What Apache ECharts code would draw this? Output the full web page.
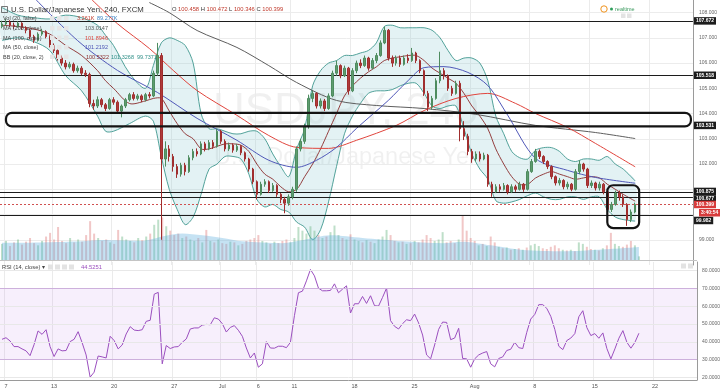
<!DOCTYPE html>
<html><head><meta charset="utf-8">
<script src="https://cdn.jsdelivr.net/npm/echarts@6/dist/echarts.min.js"></script>
<style>html,body{margin:0;padding:0;background:#fff}#c{width:720px;height:391px}</style>
</head><body><div id="c"></div>
<script>
// ---------- data ----------
const tickDates = ['2016-06-07','2016-06-13','2016-06-20','2016-06-27','2016-07-01','2016-07-06','2016-07-11','2016-07-18','2016-07-25','2016-08-01','2016-08-08','2016-08-15','2016-08-22'];
const tickLabels = ['7','13','20','27','Jul','6','11','18','25','Aug','8','15','22'];

// [open, close, low, high]
const candles = [
[107.45,107.55,107.38,107.68],[107.55,107.62,107.48,107.75],[107.62,107.50,107.42,107.70],[107.50,107.45,107.35,107.60],
[107.45,107.58,107.40,107.66],[107.58,107.40,107.32,107.62],[107.40,107.30,107.18,107.46],[107.30,107.05,106.95,107.36],
[107.05,106.90,106.80,107.12],[106.90,107.15,106.85,107.22],[107.15,107.25,107.08,107.35],[107.25,107.05,106.98,107.30],
[107.05,106.70,106.62,107.10],[106.70,106.50,106.40,106.78],[106.50,106.20,106.10,106.58],[106.20,106.00,105.90,106.30],
[106.00,105.85,105.75,106.12],[105.85,105.95,105.78,106.05],[105.95,105.70,105.62,106.02],[105.70,105.80,105.62,105.90],
[105.80,105.60,105.52,105.88],[105.60,105.55,105.45,105.72],[105.55,104.40,104.25,105.62],[104.40,104.30,104.15,104.55],
[104.30,104.55,104.22,104.68],[104.55,104.35,104.25,104.62],[104.35,104.20,104.10,104.42],[104.20,104.55,104.15,104.62],
[104.55,104.45,104.35,104.65],[104.45,104.10,104.00,104.52],[104.10,104.30,103.85,104.36],[104.30,104.55,104.22,104.62],
[104.55,104.75,104.48,104.82],[104.75,104.60,104.52,104.85],[104.60,104.70,104.52,104.78],[104.70,104.55,104.45,104.76],
[104.55,104.75,104.48,104.82],[104.75,104.70,104.60,104.85],[104.70,105.60,104.65,105.70],[105.60,106.30,105.50,106.80],
[106.30,102.20,99.00,106.40],[102.20,102.60,101.90,102.90],[102.60,102.30,102.10,102.75],[102.30,101.90,101.70,102.40],
[101.90,101.60,101.45,102.00],[101.60,101.95,101.50,102.05],[101.95,101.70,101.55,102.05],[101.70,102.25,101.65,102.35],
[102.25,102.50,102.15,102.60],[102.50,102.40,102.30,102.62],[102.40,102.80,102.35,102.90],[102.80,102.60,102.50,102.88],
[102.60,102.85,102.55,102.95],[102.85,102.70,102.60,102.95],[102.70,103.30,102.65,103.40],[103.30,102.90,102.80,103.35],
[102.90,102.60,102.50,102.98],[102.60,102.75,102.52,102.85],[102.75,102.55,102.45,102.82],[102.55,102.70,102.48,102.80],
[102.70,102.45,102.35,102.75],[102.45,102.20,102.10,102.50],[102.20,101.80,101.70,102.25],[101.80,101.30,101.20,101.85],
[101.30,100.80,100.60,101.35],[100.80,101.20,100.75,101.30],[101.20,101.30,101.10,101.40],[101.30,100.95,100.85,101.35],
[100.95,101.15,100.90,101.25],[101.15,100.80,100.70,101.20],[100.80,100.60,100.45,100.85],[100.60,100.45,100.05,100.70],
[100.45,100.70,100.35,100.80],[100.70,101.00,100.60,101.10],[101.00,102.60,100.90,102.70],[102.60,102.90,102.50,103.00],
[102.90,103.50,102.80,103.60],[103.50,104.60,103.40,104.75],[104.60,104.80,104.45,104.90],[104.80,104.30,104.20,104.85],
[104.30,104.50,104.20,104.60],[104.50,104.20,104.10,104.58],[104.20,104.70,104.15,104.80],[104.70,105.60,104.65,105.70],
[105.60,105.90,105.50,106.10],[105.90,105.50,105.40,105.95],[105.50,105.80,105.45,105.90],[105.80,104.90,104.75,105.85],
[104.90,105.70,104.85,105.80],[105.70,106.00,105.60,106.10],[106.00,105.90,105.80,106.15],[105.90,106.20,105.85,106.30],
[106.20,105.80,105.70,106.25],[105.80,106.10,105.75,106.20],[106.10,106.30,106.00,106.40],[106.30,106.80,106.25,106.90],
[106.80,107.30,106.75,107.45],[107.30,106.20,106.10,107.35],[106.20,106.00,105.85,106.30],[106.00,106.20,105.90,106.30],
[106.20,105.95,105.85,106.30],[105.95,106.20,105.90,106.30],[106.20,106.10,106.00,106.35],[106.10,106.40,106.05,106.60],
[106.40,106.10,106.00,106.45],[106.10,105.70,105.60,106.15],[105.70,104.80,104.70,105.75],[104.80,104.25,104.10,104.90],
[104.25,104.60,104.15,104.70],[104.60,105.30,104.55,105.40],[105.30,105.70,105.20,106.45],[105.70,105.50,105.35,105.80],
[105.50,105.00,104.90,105.55],[105.00,104.80,104.70,105.10],[104.80,105.20,104.75,105.30],[105.20,103.40,102.90,105.30],
[103.40,103.10,102.95,103.70],[103.10,102.50,102.35,103.20],[102.50,102.20,102.05,102.60],[102.20,102.40,102.10,102.50],
[102.40,102.20,102.10,102.50],[102.20,102.35,102.15,102.45],[102.35,101.20,101.10,102.40],[101.20,100.90,100.70,101.30],
[100.90,101.10,100.85,101.20],[101.10,101.00,100.90,101.20],[101.00,101.15,100.95,101.25],[101.15,100.90,100.80,101.20],
[100.90,101.10,100.85,101.20],[101.10,101.00,100.90,101.18],[101.00,101.20,100.95,101.30],[101.20,101.00,100.90,101.25],
[101.00,101.70,100.95,101.80],[101.70,102.10,101.65,102.20],[102.10,102.50,102.05,102.60],[102.50,102.30,102.20,102.58],
[102.30,102.10,102.00,102.35],[102.10,101.90,101.80,102.15],[101.90,101.50,101.40,101.95],[101.50,101.25,101.15,101.55],
[101.25,101.35,101.15,101.45],[101.35,101.10,101.00,101.40],[101.10,101.20,101.00,101.30],[101.20,101.00,100.92,101.25],
[101.00,101.70,100.95,101.80],[101.70,102.00,101.60,102.15],[102.00,101.80,101.70,102.05],[101.80,101.15,101.05,101.85],
[101.15,101.25,101.05,101.35],[101.25,101.05,100.95,101.30],[101.05,101.20,100.95,101.30],[101.20,100.90,100.80,101.25],
[100.90,100.20,99.95,100.95],[100.20,100.40,100.10,100.50],[100.40,100.85,100.35,100.95],[100.85,100.70,100.55,100.95],
[100.70,100.40,100.30,100.80],[100.40,99.80,99.55,100.45],[99.80,100.10,99.70,100.20],[100.10,100.40,100.05,100.47]
];

// volume, thousands
const volumes = [
110,130,95,120,140,105,125,150,115,100,130,
160,185,140,225,130,115,150,120,140,125,
170,265,180,150,130,140,120,110,205,160,
140,130,120,150,135,160,180,240,275,290,
230,200,170,180,150,160,140,130,150,120,
205,130,120,140,115,110,125,120,100,110,
130,140,150,170,130,120,110,125,115,130,
140,120,150,225,200,180,230,200,170,150,
160,190,235,170,150,140,175,140,130,120,
135,125,115,140,160,205,170,130,120,125,
110,115,130,120,140,170,150,130,140,190,
120,130,115,140,300,200,150,130,100,110,
95,160,120,90,80,85,70,75,80,70,
85,100,110,95,80,75,90,100,80,70,
65,70,60,120,110,90,75,70,65,80,
100,185,110,95,90,105,130,100,25
];
const volMA = [[0,118],[10,120],[20,128],[25,136],[35,130],[40,160],[45,180],[50,168],[55,150],[60,128],[70,115],[75,135],[82,168],[90,150],[100,128],[110,115],[115,125],[122,100],[130,68],[140,60],[150,72],[159,89]];

const rsi = [
41.4,42.3,40.5,37.3,37.3,36.0,34.9,32.2,38.4,46.1,
44.2,46.8,37.3,31.7,36.0,34.9,35.1,40.1,41.4,45.7,
39.5,32.6,20.1,22.9,32.0,31.5,30.9,43.1,40.7,36.0,
38.2,44.4,48.5,46.6,46.3,46.8,51.5,52.1,66.8,67.8,
27.6,37.9,36.2,37.1,37.3,39.7,41.6,47.2,47.8,47.8,
49.4,49.8,49.6,53.5,52.8,50.2,45.5,48.1,49.1,46.5,
43.1,36.5,30.9,33.7,25.7,27.6,40.1,36.5,36.4,37.5,
37.5,36.7,39.7,54.7,67.6,68.5,74.3,80.7,77.1,70.2,
68.7,68.7,68.9,72.6,67.6,69.6,71.5,56.2,61.4,61.4,
65.5,61.6,65.9,60.3,60.1,65.0,70.2,51.9,48.7,47.2,
50.2,52.4,51.9,55.6,50.6,43.8,32.6,30.4,38.2,47.0,
51.1,50.9,41.2,42.1,47.6,30.6,30.4,25.7,30.4,32.6,
33.7,34.5,27.6,25.9,30.6,31.5,35.1,35.8,39.7,36.7,
36.2,45.3,52.8,55.4,60.9,60.9,58.8,54.3,47.0,37.5,
35.6,40.7,42.1,44.6,54.1,57.5,48.0,43.5,44.6,42.0,
45.0,36.2,30.4,36.0,42.0,46.3,39.7,36.4,39.7,44.8
];

const ma200 = [[37,108.40],[42,108.00],[49,107.29],[59,106.62],[67,105.90],[74,105.23],[84,104.52],[94,104.32],[106,104.20],[119,103.97],[134,103.53],[149,103.25],[159,103.01]];
const ma100 = [[22,108.60],[29,107.56],[37,106.58],[43,105.71],[49,104.91],[59,103.93],[67,103.13],[74,102.66],[82,102.62],[89,102.94],[99,103.53],[106,104.12],[114,104.60],[122,104.80],[129,104.40],[134,104.00],[142,103.45],[149,102.82],[159,101.89]];
const ma50 = [[8,108.60],[19,106.89],[29,105.71],[39,104.84],[49,103.81],[59,102.94],[67,102.15],[74,101.87],[79,102.15],[84,102.66],[89,103.41],[97,104.52],[102,105.31],[106,105.82],[111,105.86],[117,105.63],[122,105.11],[127,103.93],[134,102.22],[142,101.75],[149,101.47],[159,101.24]];

const bbIdx   = [0,4,8,12,16,20,24,26,28,32,36,38,40,42,44,46,48,50,52,54,56,58,60,62,64,66,68,70,72,74,76,78,80,82,84,86,88,90,92,94,96,98,100,102,104,106,108,110,112,114,116,118,120,122,124,126,128,130,132,134,136,138,140,142,144,146,148,150,152,154,156,159];
const bbUpper = [108.2,107.9,107.8,107.75,107.9,107.8,107.5,107.1,106.7,105.6,105.0,105.9,106.8,107.0,106.9,106.7,106.0,104.0,103.4,103.4,103.3,103.2,103.2,103.3,103.3,103.0,102.4,101.9,101.5,102.6,103.4,105.1,105.7,106.0,106.1,106.3,106.3,106.4,106.5,106.8,107.45,107.5,107.4,107.4,107.4,107.4,107.3,107.0,106.5,106.1,106.2,106.2,106.0,105.3,103.9,103.2,102.5,102.25,102.2,102.55,102.65,102.65,102.5,102.2,102.1,102.2,102.2,102.15,102.3,102.0,101.8,101.33];
const bbBasis = [107.5,107.45,107.35,107.15,106.7,106.3,105.7,105.3,105.0,104.4,104.5,104.6,104.6,104.1,103.6,103.2,103.0,102.6,102.6,102.7,102.8,102.8,102.75,102.5,102.0,101.6,101.4,101.1,100.9,101.0,101.5,102.0,102.6,103.3,104.0,104.7,105.1,105.4,105.65,105.85,106.1,106.2,106.25,106.3,106.3,106.1,105.8,105.6,105.4,105.2,104.8,104.3,103.9,103.4,102.6,102.0,101.5,101.2,101.2,101.45,101.6,101.7,101.6,101.5,101.4,101.45,101.5,101.45,101.2,101.0,100.8,100.53];
const bbLower = [106.9,107.0,106.85,106.5,105.5,104.9,103.9,103.3,103.3,103.6,103.9,103.7,102.3,101.0,100.2,99.6,99.9,100.8,101.8,102.0,102.3,102.3,102.2,101.6,100.6,100.3,100.4,100.2,100.1,99.7,99.5,99.0,99.4,100.5,101.9,103.2,103.9,104.4,104.8,104.9,104.9,104.95,105.1,105.2,105.2,104.8,104.3,104.2,104.3,104.3,103.4,102.4,101.8,101.4,100.55,100.45,100.5,100.6,100.75,100.85,100.7,100.6,100.6,100.7,100.7,100.6,100.7,100.7,100.2,99.9,99.8,99.74];

const levels = [107.672, 105.518, 100.875, 100.677, 99.982];
const zoneLabel = 103.531;
const lastPrice = 100.399;
// annotation boxes [startIdx, top, endIdx, bottom]
const zoneBoxes = [[1,104.03,173,103.49],[152,101.16,160,99.46]];

// ---------- build ----------
const F = "'Liberation Sans', Arial, sans-serif";
const allCats = [];
{
  const d = new Date(Date.UTC(2016,5,6));
  const end = Date.UTC(2016,7,27);
  while (d.getTime() < end) {
    const wd = d.getUTCDay();
    if (wd > 0 && wd < 6) for (const h of [0,8,16]) allCats.push(d.toISOString().slice(0,10) + ' ' + String(h).padStart(2,'0'));
    d.setUTCDate(d.getUTCDate() + 1);
  }
}
const categories = allCats.slice(2, 176);
const tickMap = {};
tickDates.forEach((dt,k) => { const i = categories.indexOf(dt + ' 00'); if (i >= 0) tickMap[i] = tickLabels[k]; });
const isTick = (i) => tickMap[i] !== undefined;

const volData = volumes.map((v,i) => ({
  value: v,
  itemStyle: { color: candles[i][1] >= candles[i][0] ? 'rgba(110,185,135,0.45)' : 'rgba(225,130,130,0.45)' }
}));

const priceLabel = (val, bg, dy) => ({
  show: true, position: 'end', distance: 1,
  formatter: () => val.toFixed(3),
  color: '#fff', backgroundColor: bg, fontSize: 5, fontWeight: 'bold', fontFamily: F,
  padding: [1.5, 2, 1, 2], offset: [0, dy || 0]
});
const lvlStyle = { color: '#1c1c1c', width: 1.2, type: 'solid' };
const levelOffsets = { 100.875: -1, 100.677: 1.5, 99.982: 5.5 };

const chart = echarts.init(document.getElementById('c'));
const lineCommon = { type: 'line', showSymbol: false, symbol: 'none', smooth: 0.3, silent: true, xAxisIndex: 0, yAxisIndex: 0 };

const txt = (x, y, text, fill, size, extra) => Object.assign({
  type: 'text', x: x, y: y, z: 50, silent: true,
  style: { text: text, fill: fill, font: `${size}px ${F}`, verticalAlign: 'middle' }
}, extra || {});
const box = (x, y, w, h, fill) => ({ type: 'rect', z: 50, silent: true, shape: { x: x, y: y, width: w, height: h }, style: { fill: fill } });

const legendRows = [
  { y: 18.5, name: 'Vol (20, false)', vals: [['3.261K', '#c0392b', 77], ['89.277K', '#3b82c4', 97]] },
  { y: 28.5, name: 'MA (200, close)', vals: [['103.0147', '#555555', 85]] },
  { y: 38, name: 'MA (100, close)', vals: [['101.8946', '#d9443c', 85]] },
  { y: 47.5, name: 'MA (50, close)', vals: [['101.2192', '#4a52b5', 85]] },
  { y: 57, name: 'BB (20, close, 2)', vals: [['100.5322', '#8a2a2a', 86], ['101.3268', '#2f8f87', 111], ['99.7371', '#2f8f87', 137]] }
];
const graphics = [
  { type: 'text', x: 213, y: 112, z: 0, silent: true, style: { text: 'USDJPY, 240', fill: 'rgba(0,0,0,0.06)', font: `44px ${F}`, verticalAlign: 'middle' } },
  { type: 'text', x: 214, y: 158, z: 0, silent: true, style: { text: 'U.S. Dollar/Japanese Yen', fill: 'rgba(0,0,0,0.06)', font: `23.5px ${F}`, verticalAlign: 'middle' } },
  { type: 'rect', z: 50, silent: true, shape: { x: 1.5, y: 6.5, width: 6, height: 6 }, style: { fill: 'none', stroke: '#555', lineWidth: 0.8 } },
  txt(11, 9.5, 'U.S. Dollar/Japanese Yen, 240, FXCM', '#333', 7.8),
  { type: 'text', x: 172, y: 9.5, z: 50, silent: true, style: { text: '{l|O} {v|100.458} {l|H} {v|100.472} {l|L} {v|100.346} {l|C} {v|100.399}', font: `5.8px ${F}`, verticalAlign: 'middle', rich: { l: { fill: '#333', font: `5.8px ${F}` }, v: { fill: '#c0392b', font: `5.8px ${F}` } } } },
  { type: 'circle', z: 50, silent: true, shape: { cx: 604, cy: 9, r: 3.2 }, style: { fill: 'none', stroke: '#f0931e', lineWidth: 1 } },
  { type: 'circle', z: 50, silent: true, shape: { cx: 611.5, cy: 9, r: 1.5 }, style: { fill: '#2e9e5b' } },
  txt(615, 9, 'realtime', '#3c9a5f', 5.5),
  box(621, 13.5, 4.5, 4.5, '#e3e3e3'), box(627, 13.5, 4.5, 4.5, '#e3e3e3'),
  box(681, 263.5, 5, 5, '#e3e3e3'), box(688, 263.5, 5, 5, '#e3e3e3'),
  { type: 'line', z: 40, silent: true, shape: { x1: 0, y1: 260.5, x2: 697, y2: 260.5 }, style: { stroke: '#c4c4c4', lineWidth: 1.2 } },
  { type: 'text', x: 699, y: 209, z: 60, silent: true, style: { text: '3:40:54', fill: '#fff', backgroundColor: '#d83c3c', font: `bold 5px ${F}`, padding: [1.5, 2, 1, 2] } },
  txt(2, 267, 'RSI (14, close) \u25BE', '#444', 5.8),
  box(48, 264.5, 5, 5, '#e3e3e3'), box(55, 264.5, 5, 5, '#e3e3e3'), box(62, 264.5, 5, 5, '#e3e3e3'), box(69, 264.5, 5, 5, '#e3e3e3'),
  txt(81, 267, '44.5251', '#9b4fbf', 5.8)
];
legendRows.forEach(r => {
  graphics.push(txt(3, r.y, r.name, '#444', 5.5));
  graphics.push(box(50, r.y - 2.5, 4.5, 4.5, '#e6e6e6'), box(57, r.y - 2.5, 4.5, 4.5, '#e6e6e6'), box(64, r.y - 2.5, 4.5, 4.5, '#e6e6e6'));
  r.vals.forEach(v => graphics.push(txt(v[2], r.y, v[0], v[1], 5.5)));
});

const option = {
  animation: false,
  backgroundColor: '#ffffff',
  textStyle: { fontFamily: F },
  grid: [
    { left: 0, right: 23, top: -1, height: 266 },
    { left: 0, right: 23, top: 216, height: 44 },
    { left: 0, right: 23, top: 262, height: 118 }
  ],
  xAxis: [
    { type: 'category', data: categories, gridIndex: 0, boundaryGap: true,
      axisLine: { show: false }, axisTick: { show: false }, axisLabel: { show: false },
      splitLine: { show: true, interval: (i) => isTick(i), lineStyle: { color: '#ebebeb', width: 1 } } },
    { type: 'category', data: categories, gridIndex: 1, boundaryGap: true, show: false },
    { type: 'category', data: categories, gridIndex: 2, boundaryGap: true,
      axisLine: { show: true, lineStyle: { color: '#9a9a9a', width: 1 } }, axisTick: { show: false },
      axisLabel: { show: true, interval: (i) => isTick(i), formatter: (v, i) => tickMap[i] || '', fontSize: 5.5, color: '#555', margin: 3, fontFamily: F },
      splitLine: { show: true, interval: (i) => isTick(i), lineStyle: { color: '#ebebeb', width: 1 } } }
  ],
  yAxis: [
    { type: 'value', gridIndex: 0, position: 'right', min: 98, max: 108.5, interval: 1,
      axisLine: { show: true, lineStyle: { color: '#9a9a9a' } }, axisTick: { show: false },
      axisLabel: { fontSize: 5, color: '#666', margin: 6, fontFamily: F,
        formatter: v => (v === 100 || v === 101 || v < 99 || v > 108) ? '' : v.toFixed(3) },
      splitLine: { show: true, showMinLine: false, showMaxLine: false, lineStyle: { color: '#ececec' } } },
    { type: 'value', gridIndex: 1, min: 0, max: 300, show: false, splitLine: { show: false } },
    { type: 'value', gridIndex: 2, position: 'right', min: 18.5, max: 84.9,
      axisLine: { show: true, lineStyle: { color: '#9a9a9a' } }, axisTick: { show: false },
      axisLabel: { show: false }, splitLine: { show: false } }
  ],
  graphic: graphics,
  series: [
    { type: 'custom', xAxisIndex: 0, yAxisIndex: 0, z: 1, silent: true, data: [[0, 100]],
      renderItem: (params, api) => {
        if (params.dataIndex !== 0) return null;
        const up = bbIdx.map((x, k) => api.coord([x, bbUpper[k]]));
        const lo = bbIdx.map((x, k) => api.coord([x, bbLower[k]]));
        const mid = bbIdx.map((x, k) => api.coord([x, bbBasis[k]]));
        return { type: 'group', children: [
          { type: 'polygon', shape: { points: up.concat(lo.slice().reverse()), smooth: 0.3 }, style: { fill: 'rgba(140,200,210,0.24)', stroke: null } },
          { type: 'polyline', shape: { points: up, smooth: 0.3 }, style: { stroke: '#3f978f', lineWidth: 0.9, fill: null } },
          { type: 'polyline', shape: { points: lo, smooth: 0.3 }, style: { stroke: '#3f978f', lineWidth: 0.9, fill: null } },
          { type: 'polyline', shape: { points: mid, smooth: 0.3 }, style: { stroke: '#8a2a2a', lineWidth: 0.9, fill: null } }
        ] };
      } },
    Object.assign({}, lineCommon, { name: 'MA200', data: ma200, z: 3, lineStyle: { color: '#5e5e5e', width: 1 } }),
    Object.assign({}, lineCommon, { name: 'MA100', data: ma100, z: 3, lineStyle: { color: '#e0453d', width: 1 } }),
    Object.assign({}, lineCommon, { name: 'MA50', data: ma50, z: 3, lineStyle: { color: '#5058b8', width: 1 } }),
    { type: 'candlestick', name: 'USDJPY', xAxisIndex: 0, yAxisIndex: 0, z: 5, data: candles, barWidth: 2, silent: true,
      itemStyle: { color: '#5e9c6f', color0: '#b03a3a', borderColor: '#4e8c5f', borderColor0: '#a02e2e', borderWidth: 1 },
      markLine: { silent: true, symbol: 'none', animation: false, precision: 3,
        data: levels.map(v => ({ yAxis: v, lineStyle: lvlStyle, label: priceLabel(v, '#1c1c1c', levelOffsets[v]) }))
          .concat([
            { yAxis: zoneLabel, lineStyle: { color: 'rgba(0,0,0,0)', width: 1 }, label: priceLabel(zoneLabel, '#1c1c1c') },
            { yAxis: lastPrice, lineStyle: { color: '#d05050', width: 1, type: [2, 2] }, label: priceLabel(lastPrice, '#d83c3c') }
          ]) } },
    { type: 'custom', xAxisIndex: 0, yAxisIndex: 0, z: 6, silent: true, data: zoneBoxes.map(b => [b[0], b[1]]),
      renderItem: (params, api) => {
        const b = zoneBoxes[params.dataIndex];
        const p0 = api.coord([b[0], b[1]]);
        const p1 = api.coord([b[2], b[3]]);
        return { type: 'rect', shape: { x: p0[0], y: p0[1], width: p1[0] - p0[0], height: p1[1] - p0[1], r: 6 },
          style: { fill: null, stroke: '#141414', lineWidth: 2.2 } };
      } },
    { type: 'bar', name: 'Volume', xAxisIndex: 1, yAxisIndex: 1, data: volData, barWidth: 2, z: 2, silent: true },
    { type: 'line', name: 'VolMA', xAxisIndex: 1, yAxisIndex: 1, data: volMA, smooth: 0.3, showSymbol: false, symbol: 'none', z: 3, silent: true,
      lineStyle: { width: 0 }, areaStyle: { color: 'rgba(90,172,222,0.5)' } },
    { type: 'line', name: 'RSI', xAxisIndex: 2, yAxisIndex: 2, data: rsi, showSymbol: false, symbol: 'none', z: 4, silent: true,
      lineStyle: { color: '#9b4fbf', width: 1 },
      markArea: { silent: true, itemStyle: { color: 'rgba(190,130,230,0.13)' }, data: [[{ yAxis: 30 }, { yAxis: 70 }]] },
      markLine: { silent: true, symbol: 'none', animation: false,
        data: [80, 70, 60, 50, 40, 30, 20].map(v => ({ yAxis: v,
          lineStyle: { color: (v === 30 || v === 70) ? '#cdb0dc' : '#e8e8e8', width: 1, type: 'solid' },
          label: { show: true, position: 'end', distance: 5, formatter: v.toFixed(4), color: '#666', fontSize: 5, fontFamily: F } })) } }
  ]
};
chart.setOption(option);
</script>
</body></html>
